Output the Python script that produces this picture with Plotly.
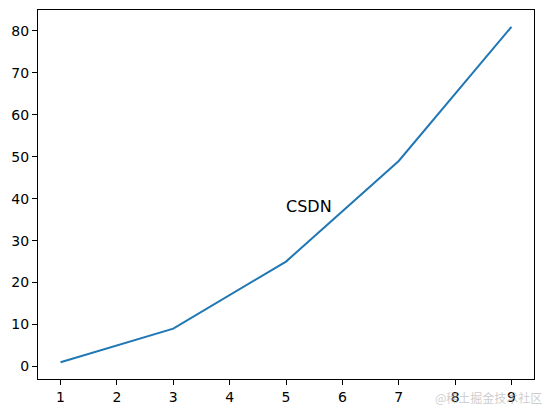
import plotly.graph_objects as go

x_values = [1, 3, 5, 7, 9]
y_values = [1, 9, 25, 49, 81]
x_ticks = [1, 2, 3, 4, 5, 6, 7, 8, 9]
y_ticks = [0, 10, 20, 30, 40, 50, 60, 70, 80]
label_text = "CSDN"
label_pos = (5, 36)
watermark = "@稀土掘金技术社区"

fig = go.Figure()
fig.add_trace(go.Scatter(x=x_values, y=y_values, mode="lines",
                         line=dict(color="#1f77b4", width=2), showlegend=False))

fig.add_annotation(x=label_pos[0], y=label_pos[1], text=label_text, showarrow=False,
                   xanchor="left", yanchor="bottom", xshift=-2, yshift=-3,
                   font=dict(family="DejaVu Sans", size=16, color="black"))
fig.add_annotation(x=1.0, y=0, xref="paper", yref="paper", text=watermark, showarrow=False,
                   xanchor="right", yanchor="top", xshift=10, yshift=-8,
                   font=dict(family="Noto Sans CJK SC", size=12, color="rgba(170,170,170,0.6)"))

axis_common = dict(showline=True, linecolor="black", linewidth=1, mirror=True,
                   ticks="outside", ticklen=5, tickwidth=1, tickcolor="black",
                   showgrid=False, zeroline=False, automargin=False,
                   tickfont=dict(family="DejaVu Sans", size=14, color="black"))

fig.update_xaxes(range=[0.6, 9.4], tickvals=x_ticks, **axis_common)
fig.update_yaxes(range=[-3, 85], tickvals=y_ticks, **axis_common)

fig.update_layout(width=546, height=409, margin=dict(l=38, r=12, t=10, b=30),
                  plot_bgcolor="white", paper_bgcolor="white")

fig.write_html("out.html", config={"displayModeBar": False},
               post_script="document.body.style.margin='0';document.body.style.overflow='hidden';")
